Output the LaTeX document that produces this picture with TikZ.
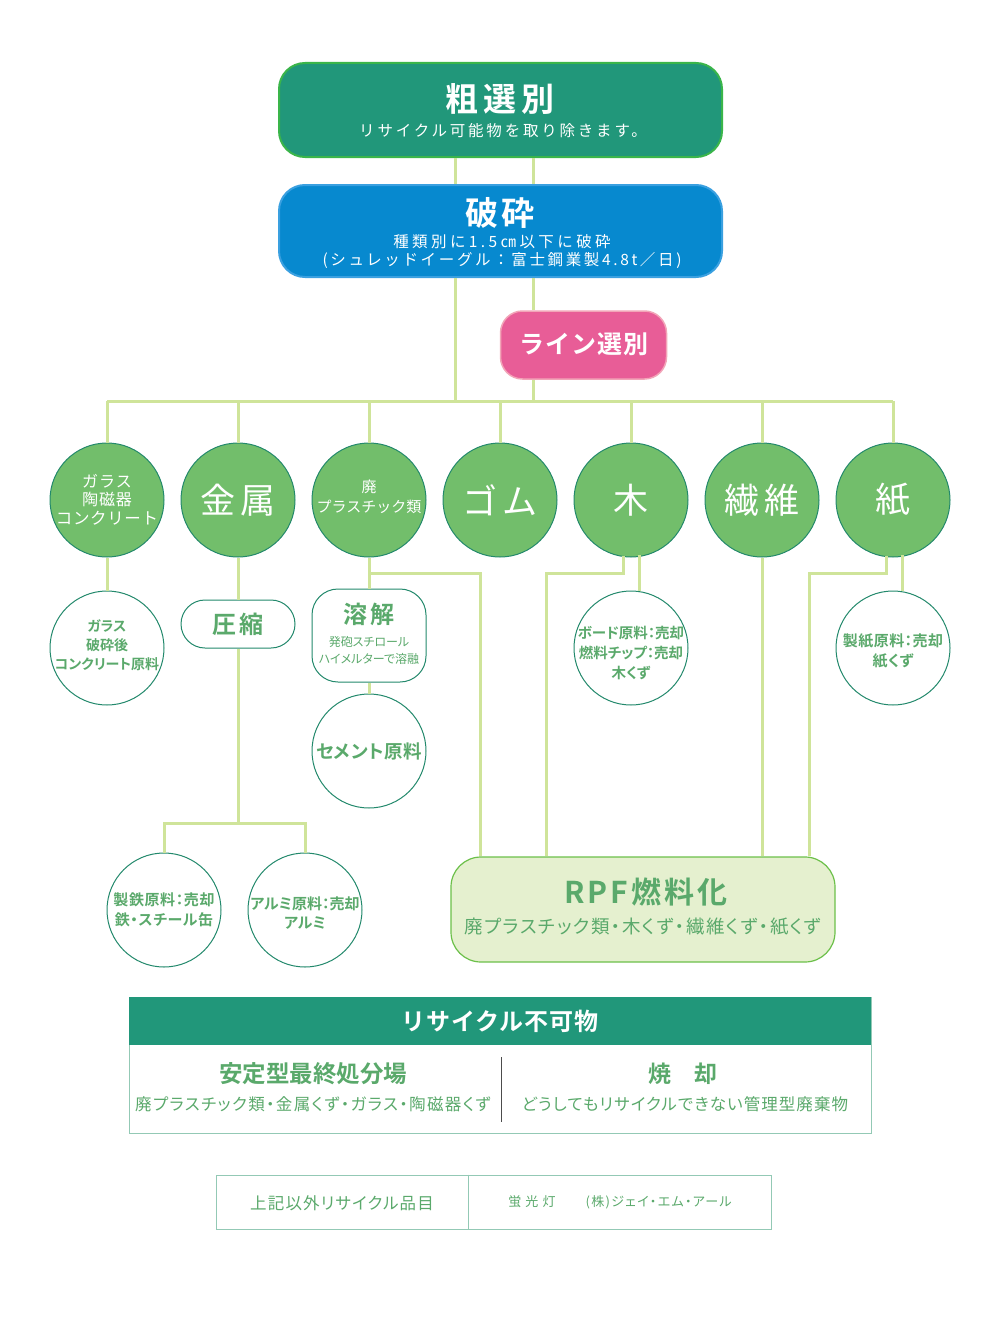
\documentclass[tikz,border=0pt]{standalone}
\usepackage{fontspec}
\setmainfont{Noto Sans CJK JP}[BoldFont={Noto Sans CJK JP Bold}]
\usetikzlibrary{calc}
\definecolor{topfill}{HTML}{21977A}
\definecolor{topedge}{HTML}{3AB54A}
\definecolor{bluefill}{HTML}{0789CF}
\definecolor{blueedge}{HTML}{3AA0E0}
\definecolor{pinkfill}{HTML}{E85D97}
\definecolor{pinkedge}{HTML}{F2A5B8}
\definecolor{cfill}{HTML}{72BE6B}
\definecolor{cedge}{HTML}{23896C}
\definecolor{tgreen}{HTML}{5AA96B}
\definecolor{lineg}{HTML}{CFE49A}
\definecolor{rpffill}{HTML}{E5F0CF}
\definecolor{rpfedge}{HTML}{6CC04A}
\definecolor{tabedge}{HTML}{93C9B5}
\newcommand{\fs}[1]{\fontsize{#1}{#1}\selectfont}
\newcommand{\lsp}[1]{\addfontfeatures{LetterSpace=#1}}
\newcommand{\pal}{\addfontfeatures{RawFeature=+palt}}
\newcommand{\zb}[1]{\makebox[0pt]{#1}}
\tikzset{
  conn/.style={draw=lineg, line width=3pt},
  bigcirc/.style={circle, fill=cfill, draw=cedge, line width=1pt, minimum size=114pt, inner sep=0pt, text=white, align=center},
  outcirc/.style={circle, fill=white, draw=cedge, line width=1pt, minimum size=114pt, inner sep=0pt},
  txt/.style={inner sep=0pt, align=center},
  gtxt/.style={inner sep=0pt, align=center, text=tgreen, font=\bfseries},
}
\begin{document}
\begin{tikzpicture}[x=1pt,y=-1pt]
\useasboundingbox (0,0) rectangle (1001,1335);

% ---- top boxes
\node[draw=topedge, fill=topfill, line width=2pt, rounded corners=26pt, minimum width=443pt, minimum height=94pt] (sort) at (500.5,110) {};
\node[txt, text=white] (sortT) at (500,99) {\fs{33}\bfseries\lsp{15}粗選別};
\node[txt, text=white] (sortS) at (503,131) {\fs{15.5}\lsp{18}リサイクル可能物を取り除きます。};

\node[draw=blueedge, fill=bluefill, line width=2pt, rounded corners=26pt, minimum width=443pt, minimum height=92pt] (crush) at (500.5,231) {};
\node[txt, text=white] (crushT) at (500,213) {\fs{33}\bfseries\lsp{10}破砕};
\node[txt, text=white] (crushS1) at (502,242) {\fs{15.5}\lsp{22}種類別に1.5㎝以下に破砕};
\node[txt, text=white] (crushS2) at (502,260) {\fs{15.5}\lsp{17}(シュレッドイーグル：富士鋼業製4.8t／日)};

\node[draw=pinkedge, fill=pinkfill, line width=1.5pt, rounded corners=22pt, minimum width=166pt, minimum height=68pt] (lsel) at (583.5,345) {};
\node[txt, text=white] (lselT) at (584,344) {\fs{25}\bfseries\lsp{4}ライン選別};

% ---- bus coordinates
\coordinate (xL) at (455,401);
\coordinate (xR) at (533,401);
\draw[conn] (sort.south -| xL) -- (crush.north -| xL);
\draw[conn] (sort.south -| xR) -- (crush.north -| xR);
\draw[conn] (crush.south -| xL) -- (xL);
\draw[conn] (crush.south -| xR) -- (lsel.north -| xR);
\draw[conn] (lsel.south -| xR) -- (xR);

% ---- category circles
\node[bigcirc] (c1) at (107,500) {\zb{\fs{16}\lsp{6}ガラス}\\[3pt]\zb{\fs{16}\lsp{6}陶磁器}\\[3pt]\zb{\fs{16.5}\lsp{4}コンクリート}};
\node[bigcirc] (c2) at (238,500) {\fs{35}\lsp{14}金属};
\node[bigcirc] (c3) at (369,500) {};
\node[txt, text=white] (c3T) at (369,497) {\zb{\fs{15}廃}\\[5pt]\zb{\fs{15}プラスチック類}};
\node[bigcirc] (c4) at (500,500) {\fs{35}\lsp{14}ゴム};
\node[bigcirc] (c5) at (631,500) {\fs{35}木};
\node[bigcirc] (c6) at (762,500) {\fs{35}\lsp{14}繊維};
\node[bigcirc] (c7) at (893,500) {\fs{35}紙};

\draw[conn] (c1.north |- xL) -- (c7.north |- xL);
\foreach \c in {c1,c2,c3,c4,c5,c6,c7} \draw[conn] (\c.north |- xL) -- (\c.north);

% ---- second level
\node[outcirc] (glass) at (107,648) {};
\node[gtxt] (glassT) at (107,645) {\zb{\fs{14}\pal ガラス}\\[5pt]\zb{\fs{14}\pal 破砕後}\\[5pt]\zb{\fs{14}\pal コンクリート原料}};
\draw[conn] (c1.south) -- (glass.north);

\node[draw=cedge, fill=white, line width=1pt, rounded corners=24pt, minimum width=114pt, minimum height=48pt, text=tgreen] (comp) at (238,624) {\fs{24}\bfseries\lsp{12}圧縮};
\draw[conn] (c2.south) -- (comp.north);

\node[draw=cedge, fill=white, line width=1pt, rounded corners=26pt, minimum width=114pt, minimum height=93pt] (melt) at (369,635.5) {};
\node[txt, text=tgreen] (meltT) at (369,614) {\fs{24}\bfseries\lsp{12}溶解};
\node[txt, text=tgreen] (meltS) at (369,650) {\zb{\fs{12}\pal 発砲スチロール}\\[5pt]\zb{\fs{12}\pal ハイメルターで溶融}};
\draw[conn] (c3.south) -- (melt.north);

\node[outcirc] (cement) at (369,751) {};
\node[gtxt] (cementT) at (369,751) {\zb{\fs{18.5}\pal\lsp{3}セメント原料}};
\draw[conn] (melt.south) -- (cement.north);

\node[outcirc] (wood) at (631,648) {};
\node[gtxt] (woodT) at (631,653) {\zb{\fs{14.5}\pal ボード原料：売却}\\[5pt]\zb{\fs{14.5}\pal 燃料チップ：売却}\\[5pt]\zb{\fs{14.5}\pal 木くず}};
\coordinate (w1) at (639,555);
\draw[conn] (w1) -- (wood.north -| w1);

\node[outcirc] (paper) at (893,648) {};
\node[gtxt] (paperT) at (893,651) {\zb{\fs{15}\pal\lsp{3}製紙原料：売却}\\[5pt]\zb{\fs{15}\pal\lsp{3}紙くず}};
\coordinate (p1) at (902,555);
\draw[conn] (p1) -- (paper.north -| p1);

% ---- metals
\coordinate (mj) at (238,823);
\node[outcirc] (iron) at (164,910) {};
\node[gtxt] (ironT) at (164,910) {\zb{\fs{15}\pal\lsp{4}製鉄原料：売却}\\[5pt]\zb{\fs{15}\pal\lsp{4}鉄・スチール缶}};
\node[outcirc] (alu) at (305,910) {};
\node[gtxt] (aluT) at (305,913) {\zb{\fs{15}\pal アルミ原料：売却}\\[5pt]\zb{\fs{15}\pal アルミ}};
\draw[conn] (comp.south) -- (mj);
\draw[conn] (iron.north) -- (iron.north |- mj) -- (alu.north |- mj) -- (alu.north);

% ---- RPF
\node[draw=rpfedge, fill=rpffill, line width=1.2pt, rounded corners=30pt, minimum width=384pt, minimum height=105pt] (rpf) at (643,909.5) {};
\node[txt, text=tgreen] (rpfT) at (646,892) {\fs{30}\bfseries\lsp{10}RPF燃料化};
\node[txt, text=tgreen] (rpfS) at (643,927) {\fs{18.5}\pal\lsp{8.5}廃プラスチック類・木くず・繊維くず・紙くず};

\coordinate (r3) at (480,573);
\draw[conn] (c3.south) -- (c3.south |- r3) -- (r3) -- (rpf.north -| r3);
\coordinate (r5a) at (623,556);
\coordinate (r5) at (546,573);
\draw[conn] (r5a) -- (r5a |- r5) -- (r5) -- (rpf.north -| r5);
\draw[conn] (c6.south) -- (rpf.north -| c6.south);
\coordinate (r7a) at (886,556);
\coordinate (r7) at (809,573);
\draw[conn] (r7a) -- (r7a |- r7) -- (r7) -- (rpf.north -| r7);

% ---- table
\node[draw=tabedge, fill=white, line width=1pt, minimum width=742pt, minimum height=136pt, inner sep=0pt] (tab) at (500,1065) {};
\node[fill=topfill, minimum width=742pt, minimum height=48pt, inner sep=0pt, text=white] (tabH) at (500,1021) {\fs{24}\bfseries\lsp{4}リサイクル不可物};
\coordinate (dv1) at (501,1057);
\coordinate (dv2) at (501,1122);
\draw[line width=1pt, draw=black!70] (dv1) -- (dv2);
\node[txt, text=tgreen] (landT) at (313,1074) {\fs{23.5}\bfseries\pal 安定型最終処分場};
\node[txt, text=tgreen] (landS) at (313,1104) {\fs{16.5}\pal\lsp{8.5}廃プラスチック類・金属くず・ガラス・陶磁器くず};
\node[txt, text=tgreen] (burnT) at (683,1074) {\fs{23}\bfseries 焼　却};
\node[txt, text=tgreen] (burnS) at (685,1104) {\fs{16.5}\pal\lsp{6.5}どうしてもリサイクルできない管理型廃棄物};

% ---- bottom box
\node[draw=tabedge, line width=1pt, minimum width=555pt, minimum height=54pt, inner sep=0pt] (other) at (493.5,1202) {};
\draw[draw=tabedge, line width=1pt] (other.north -| 468,0) -- (other.south -| 468,0);
\node[txt, text=tgreen] (otherL) at (342,1203) {\fs{16.5}\pal\lsp{7}上記以外リサイクル品目};
\node[txt, text=tgreen] (otherR) at (620,1202) {\fs{13}\pal\lsp{10}蛍 光 灯　　(株)ジェイ・エム・アール};
\end{tikzpicture}
\end{document}
